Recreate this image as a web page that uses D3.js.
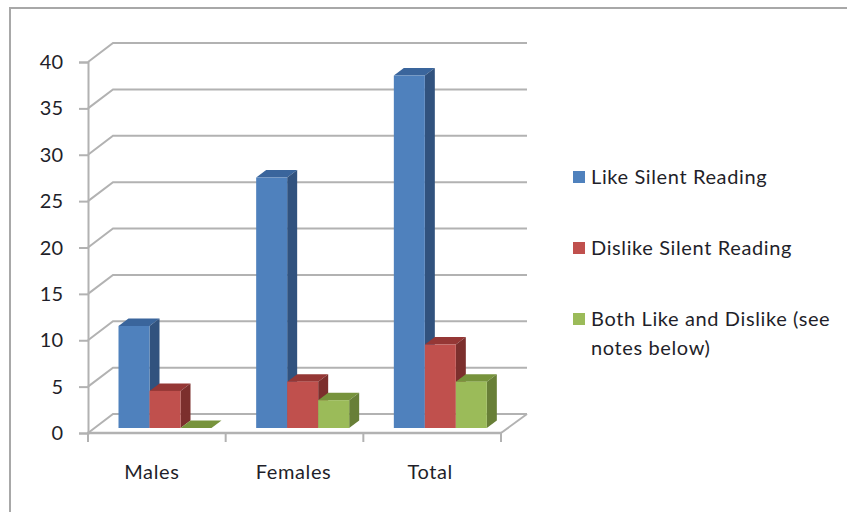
<!DOCTYPE html>
<html>
<head>
<meta charset="utf-8">
<script src="https://cdn.jsdelivr.net/npm/d3@7"></script>
<style>
html,body{margin:0;padding:0;background:#fff;overflow:hidden}
svg{display:block}
text{font-family:Lato,sans-serif;font-size:20px;fill:#1f1f2a}
.wide{letter-spacing:0.62px}
</style>
</head>
<body>
<svg id="chart" width="847" height="512"></svg>
<script>
// Survey counts by group
const categories = ["Males", "Females", "Total"];
const seriesNames = ["Like Silent Reading", "Dislike Silent Reading", "Both Like and Dislike (see notes below)"];
const likeValues = [11, 27, 38];
const dislikeValues = [4, 5, 9];
const bothValues = [0, 3, 5];
const yTicks = [0, 5, 10, 15, 20, 25, 30, 35, 40];

const seriesValues = [likeValues, dislikeValues, bothValues];
const palette = [
  {front: "#4f81bd", top: "#3a659c", side: "#31527e"},
  {front: "#c0504d", top: "#953735", side: "#7c2f2d"},
  {front: "#9bbb59", top: "#77933c", side: "#687f37"}
];
const gridColor = "#b2b2b2";

const svg = d3.select("#chart");

// Outer chart frame runs off the right and bottom edges
svg.append("path")
  .attr("d", "M847,8H10V512")
  .attr("fill", "none").attr("stroke", "#a8a8a8").attr("stroke-width", 2);

// Front plane of the 3D box
const left = 88, right = 501, yFloor = 433, yCeil = 62;
const wallDx = 25, wallDy = 19;     // offset from front plane to back wall
const barDx = 10, barDy = 7.5;      // depth of each column
const barFloorLift = 5;             // columns stand slightly behind the front edge

const x = d3.scaleBand().domain(categories).range([left, right]);
const y = d3.scaleLinear().domain([0, 40]).range([yFloor, yCeil]);
const inner = d3.scaleBand().domain(d3.range(seriesNames.length)).range([30.5, 123.5]);

const grid = svg.append("g").attr("fill", "none").attr("stroke", gridColor).attr("stroke-width", 2);

// Gridlines bend from the side wall on to the back wall
grid.selectAll("path.gridline").data(yTicks).join("path")
  .attr("class", "gridline")
  .attr("d", t => d3.line()([
    [left, y(t)],
    [left + wallDx, y(t) - wallDy],
    [right + wallDx + 1, y(t) - wallDy]
  ]));

// Floor edge on the right-hand side
grid.append("path").attr("d", d3.line()([
  [right, yFloor], [right + wallDx + 1, yFloor - wallDy]
]));

// Value axis
const yAxis = svg.append("g")
  .attr("transform", `translate(${left},0)`)
  .call(d3.axisLeft(y).tickValues(yTicks).tickSize(9).tickPadding(16));
yAxis.select(".domain").attr("stroke", gridColor).attr("stroke-width", 2);
yAxis.selectAll(".tick line").attr("stroke", gridColor).attr("stroke-width", 2);
yAxis.selectAll("text").style("font-size", "20px").attr("dy", "0.33em");

// Category axis with ticks on the band edges
const xAxis = svg.append("g")
  .attr("transform", `translate(0,${yFloor})`)
  .call(d3.axisBottom(x).tickSize(0).tickPadding(32));
xAxis.select(".domain").remove();
xAxis.selectAll("text").attr("class", "wide").style("font-size", "20px")
  .attr("dx", (d, i) => [-5, -1, -2][i]);
const edges = categories.map(c => x(c)).concat(right);
xAxis.selectAll("line.edge").data(edges).join("line")
  .attr("class", "edge")
  .attr("x1", d => d).attr("x2", d => d)
  .attr("y1", -1).attr("y2", 9)
  .attr("stroke", gridColor).attr("stroke-width", 2);
xAxis.append("line")
  .attr("x1", left - 1).attr("x2", right + 1)
  .attr("stroke", gridColor).attr("stroke-width", 2.5);

// Columns: drawn series by series so later columns sit over earlier side faces
const bars = svg.append("g");
categories.forEach((cat, ci) => {
  seriesValues.forEach((vals, si) => {
    const v = vals[ci];
    const x0 = x(cat) + inner(si);
    const w = inner.bandwidth();
    const top = y(v) - barFloorLift, bottom = y(0) - barFloorLift;
    const g = bars.append("g");
    const c = palette[si];
    // top face
    g.append("path").attr("fill", c.top).attr("d", d3.line()([
      [x0, top], [x0 + barDx, top - barDy],
      [x0 + w + barDx, top - barDy], [x0 + w, top]
    ]) + "Z");
    if (v > 0) {
      // side face
      g.append("path").attr("fill", c.side).attr("d", d3.line()([
        [x0 + w, top], [x0 + w + barDx, top - barDy],
        [x0 + w + barDx, bottom - barDy], [x0 + w, bottom]
      ]) + "Z");
      // front face
      g.append("rect").attr("fill", c.front)
        .attr("x", x0).attr("y", top)
        .attr("width", w).attr("height", bottom - top);
    }
  });
});

// Legend
const legendRows = [
  {lines: ["Like Silent Reading"], y: 177},
  {lines: ["Dislike Silent Reading"], y: 248},
  {lines: ["Both Like and Dislike (see", "notes below)"], y: 319}
];
const legend = svg.append("g");
legendRows.forEach((row, i) => {
  legend.append("rect")
    .attr("x", 573).attr("y", row.y - 6)
    .attr("width", 12).attr("height", 12)
    .attr("fill", palette[i].front);
  const t = legend.append("text").attr("class", "wide").attr("x", 591).attr("y", row.y + 7);
  row.lines.forEach((ln, k) => {
    t.append("tspan").attr("x", 591).attr("dy", k ? 29 : 0).text(ln);
  });
});
</script>
</body>
</html>
